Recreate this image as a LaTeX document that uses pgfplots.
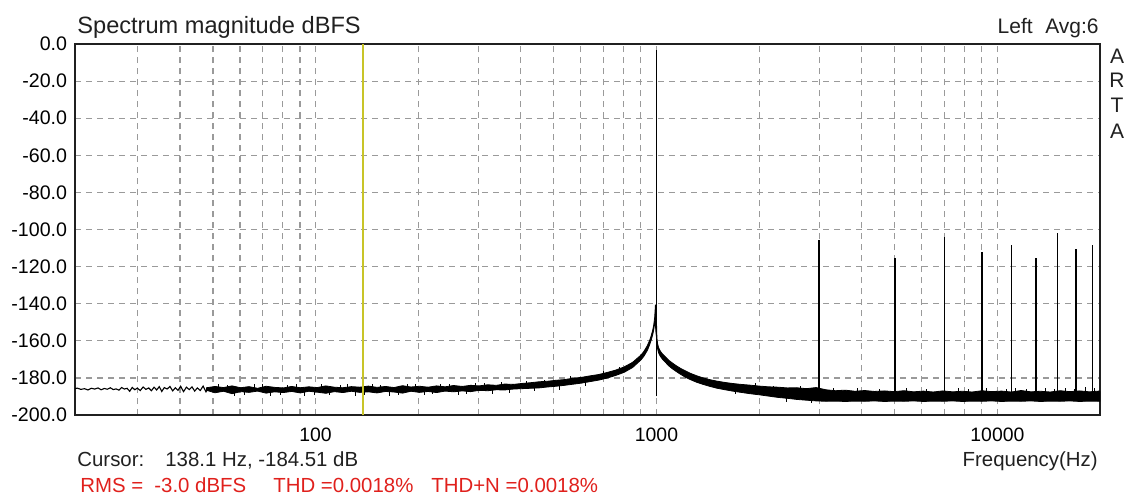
\documentclass[border=0pt]{standalone}
\usepackage{fontspec}
\setmainfont{Liberation Sans}
\usepackage{pgfplots}
\pgfplotsset{compat=1.18}
\definecolor{gridgray}{HTML}{9A9A9A}
\definecolor{cursoryellow}{HTML}{C8C428}
\definecolor{artared}{HTML}{E0201C}
\definecolor{framedark}{HTML}{202020}

\begin{document}
\begin{tikzpicture}
\useasboundingbox (-37.5pt,-39.5pt) rectangle (526pt,207.5pt);
\begin{axis}[
  at={(0pt,0pt)}, anchor=south west,
  scale only axis, width=512.5pt, height=185.5pt,
  xmode=log, xmin=19.7, xmax=20000,
  ymin=-200, ymax=0,
  unbounded coords=jump,
  axis line style={draw=framedark, line width=1pt},
  grid=both,
  major grid style={gridgray, dash pattern=on 3pt off 2.5pt, line width=0.6pt},
  minor grid style={gridgray, dash pattern=on 3pt off 2.5pt, line width=0.6pt},
  xtick={100,1000,10000},
  xticklabels={100,1000,10000},
  minor xtick={30,40,50,60,70,80,90,200,300,400,500,600,700,800,900,
    2000,3000,4000,5000,6000,7000,8000,9000},
  ytick={-200,-180,-160,-140,-120,-100,-80,-60,-40,-20,0},
  yticklabel={\pgfmathprintnumber[fixed,fixed zerofill,precision=1,assume math mode=true]{\tick}},
  major tick length=0pt, minor tick length=0pt,
  tick style={draw=none},
  yticklabel style={font=\fontsize{9.8}{10}\selectfont, inner sep=0pt, anchor=east, xshift=-3.8pt},
  xticklabel style={font=\fontsize{9.7}{10}\selectfont, inner sep=0pt, anchor=base, yshift=-13pt},
]
% noise floor, thin part below 48 Hz
\addplot[black, line width=0.55pt] coordinates {
  (19.7,-185.8) (20,-185.5) (20.5,-186.2) (21,-185.8) (21.5,-186.5) (22,-185.6)
  (22.5,-186.0) (23,-185.4) (23.5,-186.4) (24,-185.7) (24.5,-186.1) (25,-185.3)
  (25.5,-186.3) (26,-185.9) (26.5,-186.6) (27,-185.2) (27.5,-186.0) (28,-185.6)
  (28.5,-187.2) (29,-185.1) (29.5,-186.4) (30,-185.5) (30.6,-186.8) (31.2,-184.9)
  (31.8,-186.2) (32.4,-185.4) (33,-186.9) (33.6,-185.0) (34.2,-186.5) (34.8,-184.7)
  (35.4,-187.3) (36,-185.2) (36.7,-186.0) (37.4,-184.6) (38.1,-187.0) (38.8,-185.3)
  (39.5,-186.7) (40.2,-184.5) (41,-187.4) (41.8,-185.0) (42.6,-186.3) (43.4,-184.8)
  (44.2,-187.1) (45,-185.4) (45.9,-186.8) (46.8,-184.4) (47.7,-187.5) (48.6,-185.1)
};
% noise band: upper edge left to right, lower edge right to left
\addplot[black, fill=black, line width=0.4pt] coordinates {
  (47.9,-185.3) (50.7,-184.6) (53.7,-185.2) (56.9,-184.3) (60.3,-185.3) (63.8,-184.7)
  (67.6,-185.6) (71.6,-184.5) (75.9,-185.1) (80.4,-185.4) (85.1,-184.6) (90.2,-185.3)
  (95.5,-184.8) (101.2,-185.2) (107.2,-184.3) (113.5,-185.0) (120.2,-185.3) (127.4,-184.7)
  (134.9,-185.0) (142.9,-184.4) (151.4,-185.1) (160.3,-184.6) (169.8,-185.2) (179.9,-184.2)
  (190.5,-184.9) (201.8,-184.5) (213.8,-185.0) (226.5,-184.3) (239.9,-184.8) (254.1,-184.1)
  (269.2,-184.6) (285.1,-184.0) (302.0,-184.3) (319.9,-183.7) (338.8,-184.0) (358.9,-183.3)
  (380.2,-183.5) (402.7,-183.0) (426.6,-182.6) (451.9,-182.1) (478.6,-181.8) (507.0,-181.3)
  (537.0,-180.9) (568.9,-180.2) (602.6,-179.7) (638.3,-178.9) (676.1,-178.2) (716.1,-177.1)
  (758.6,-175.8) (803.5,-174.1) (851.1,-171.6) (901.6,-167.6) (920,-165.5) (940,-162.6)
  (955,-159.7) (965,-157.2) (975,-154.2) (982,-151.2) (988,-147.2) (993,-140.5)
  (997,-144.0) (1000,-150.0) (1003,-158.5) (1008,-161.8) (1015,-163.8) (1025,-165.4)
  (1040,-167.0) (1060,-168.5) (1085,-170.4) (1110,-171.8) (1140,-173.3) (1175,-174.8)
  (1215,-176.2) (1260,-177.6) (1310,-178.8) (1365,-179.9) (1430,-180.9) (1500,-181.7)
  (1580,-182.4) (1670,-183.0) (1770,-183.5) (1880,-183.9) (2000,-184.4) (2130,-184.8)
  (2270,-185.0) (2420,-185.4) (2580,-185.3) (2750,-185.8) (2940,-185.2) (3140,-186.4)
  (3350,-186.9) (3580,-186.6) (3820,-187.2) (4080,-186.8) (4360,-187.3) (4660,-187.0)
  (4980,-187.4) (5320,-186.9) (5680,-187.5) (6070,-187.1) (6480,-187.6) (6920,-187.0)
  (7390,-187.5) (7900,-187.2) (8430,-187.6) (9010,-186.9) (9620,-187.4) (10280,-187.1)
  (10980,-187.6) (11730,-186.8) (12530,-187.5) (13380,-187.2) (14290,-187.6) (15270,-186.9)
  (16310,-187.4) (17420,-187.0) (18610,-187.5) (19880,-187.1) (20000,-187.3)
  (20000,-192.6) (19880,-192.6) (18610,-192.5) (17420,-192.7) (16310,-192.4) (15270,-192.6)
  (14290,-192.5) (13380,-192.7) (12530,-192.4) (11730,-192.6) (10980,-192.5) (10280,-192.7)
  (9620,-192.4) (9010,-192.6) (8430,-192.5) (7900,-192.7) (7390,-192.4) (6920,-192.6)
  (6480,-192.5) (6070,-192.7) (5680,-192.4) (5320,-192.6) (4980,-192.5) (4660,-192.7)
  (4360,-192.4) (4080,-192.6) (3820,-192.5) (3580,-192.7) (3350,-192.5) (3140,-192.6)
  (2940,-192.4) (2750,-192.0) (2580,-191.6) (2420,-191.0) (2270,-190.5) (2130,-189.8)
  (2000,-189.1) (1880,-188.5) (1770,-187.8) (1670,-187.1) (1580,-186.3) (1500,-185.5)
  (1430,-184.5) (1365,-183.4) (1310,-182.3) (1260,-181.0) (1215,-179.6) (1175,-178.0)
  (1140,-176.4) (1110,-174.9) (1085,-173.4) (1060,-171.4) (1040,-169.8) (1025,-168.2)
  (1015,-166.6) (1008,-164.5) (1003,-161.5) (1000,-158.0) (997,-156.0) (993,-152.0)
  (988,-150.3) (982,-153.8) (975,-156.6) (965,-159.6) (955,-162.1) (940,-165.2)
  (920,-168.1) (901.6,-170.2) (851.1,-174.4) (803.5,-177.0) (758.6,-178.7) (716.1,-180.1)
  (676.1,-181.2) (638.3,-182.0) (602.6,-182.8) (568.9,-183.4) (537.0,-184.0) (507.0,-184.5)
  (478.6,-184.9) (451.9,-185.4) (426.6,-185.6) (402.7,-185.8) (380.2,-186.0) (358.9,-186.5)
  (338.8,-186.4) (319.9,-186.9) (302.0,-186.7) (285.1,-187.4) (269.2,-187.0) (254.1,-187.5)
  (239.9,-187.1) (226.5,-187.9) (213.8,-187.3) (201.8,-187.8) (190.5,-187.2) (179.9,-188.2)
  (169.8,-187.6) (160.3,-187.3) (151.4,-188.1) (142.9,-187.5) (134.9,-187.8) (127.4,-187.2)
  (120.2,-187.9) (113.5,-187.4) (107.2,-188.3) (101.2,-187.7) (95.5,-187.2) (90.2,-188.1)
  (85.1,-187.3) (80.4,-187.9) (75.9,-187.5) (71.6,-188.2) (67.6,-187.1) (63.8,-187.8)
  (60.3,-187.4) (56.9,-188.5) (53.7,-187.2) (50.7,-188.0) (47.9,-186.7)
} -- cycle;
% short spurs on the noise band
\addplot[black, line width=0.5pt] coordinates {
  (52,-186) (52,-183.2) (52,nan) (55,-186) (55,-183.6) (55,nan)
  (58,-186) (58,-189.5) (58,nan) (62,-186) (62,-189.0) (62,nan)
  (66,-186) (66,-183.5) (66,nan) (70,-186) (70,-183.3) (70,nan)
  (74,-186) (74,-189.8) (74,nan) (79,-186) (79,-189.3) (79,nan)
  (83,-186) (83,-183.7) (83,nan) (88,-186) (88,-183.4) (88,nan)
  (93,-186) (93,-189.6) (93,nan) (99,-186) (99,-189.4) (99,nan)
  (104,-186) (104,-183.4) (104,nan) (110,-186) (110,-189.2) (110,nan)
  (118,-186) (118,-183.6) (118,nan) (124,-186) (124,-183.2) (124,nan)
  (131,-186) (131,-189.6) (131,nan) (139,-186) (139,-189.1) (139,nan)
  (147,-186) (147,-183.3) (147,nan) (155,-186) (155,-183.6) (155,nan)
  (165,-186) (165,-189.7) (165,nan) (175,-186) (175,-189.4) (175,nan)
  (186,-186) (186,-183.5) (186,nan) (196,-186) (196,-183.3) (196,nan)
  (208,-186) (208,-189.3) (208,nan) (220,-186) (220,-188.9) (220,nan)
  (233,-186) (233,-183.2) (233,nan) (247,-186) (247,-183.4) (247,nan)
  (262,-186) (262,-189.0) (262,nan) (278,-185) (278,-188.8) (278,nan)
  (295,-185) (295,-182.7) (295,nan) (312,-185) (312,-182.6) (312,nan)
  (330,-185) (330,-188.6) (330,nan) (350,-185) (350,-182.2) (350,nan)
  (370,-185) (370,-187.9) (370,nan) (415,-184) (415,-181.6) (415,nan)
  (440,-184) (440,-187.2) (440,nan) (470,-184) (470,-180.9) (470,nan)
  (520,-183) (520,-186.3) (520,nan) (560,-182) (560,-179.2) (560,nan)
  (620,-181) (620,-184.3) (620,nan) (700,-179) (700,-176.2) (700,nan)
  (780,-177) (780,-174.0) (780,nan) (1700,-185) (1700,-188.7) (1700,nan)
  (1950,-186) (1950,-183.0) (1950,nan) (2200,-188) (2200,-184.5) (2200,nan)
  (2400,-188) (2400,-193.2) (2400,nan) (2650,-189) (2650,-184.2) (2650,nan)
  (2850,-189) (2850,-193.4) (2850,nan)
  (3300,-189) (3300,-185.3) (3300,nan) (3900,-189) (3900,-185.6) (3900,nan)
  (4500,-189) (4500,-185.8) (4500,nan) (5400,-189) (5400,-185.5) (5400,nan)
  (6200,-189) (6200,-185.9) (6200,nan) (7700,-189) (7700,-185.7) (7700,nan)
  (8200,-189) (8200,-186.0) (8200,nan) (9300,-189) (9300,-185.4) (9300,nan)
  (10600,-189) (10600,-185.8) (10600,nan) (11300,-189) (11300,-185.6) (11300,nan)
  (12200,-189) (12200,-186.1) (12200,nan) (13800,-189) (13800,-185.5) (13800,nan)
  (14700,-189) (14700,-185.9) (14700,nan) (15800,-189) (15800,-185.3) (15800,nan)
  (16800,-189) (16800,-185.8) (16800,nan) (18100,-189) (18100,-184.9) (18100,nan)
  (19300,-189) (19300,-185.6)
};
% fundamental and harmonics
\addplot[black, line width=0.9pt] coordinates {
  (1000,-190) (1000,-3) (1000,nan)
  (3000,-190) (3000,-105.7) (3000,nan)
  (5000,-190) (5000,-115.4) (5000,nan)
  (7000,-190) (7000,-104.0) (7000,nan)
  (9000,-190) (9000,-112.0) (9000,nan)
  (11000,-190) (11000,-108.4) (11000,nan)
  (13000,-190) (13000,-115.4) (13000,nan)
  (15000,-190) (15000,-101.9) (15000,nan)
  (17000,-190) (17000,-110.5) (17000,nan)
  (19000,-190) (19000,-108.4)
};
% cursor
\addplot[cursoryellow, line width=0.9pt] coordinates {(138.1,-200) (138.1,0)};
\end{axis}
\begin{scope}[every node/.style={inner sep=0pt, text=framedark}]
\node[anchor=base west, font=\fontsize{11.8}{12}\selectfont] at (1pt,191pt) {Spectrum magnitude dBFS};
\node[anchor=base east, font=\fontsize{10.5}{12}\selectfont] at (512pt,191pt) {Left\hspace{0.6em}Avg:6};
\node[font=\fontsize{10.5}{12}\selectfont] at (521pt,179.2pt) {A};
\node[font=\fontsize{10.5}{12}\selectfont] at (521pt,167.5pt) {R};
\node[font=\fontsize{10.5}{12}\selectfont] at (521pt,155pt) {T};
\node[font=\fontsize{10.5}{12}\selectfont] at (521pt,142pt) {A};
\node[anchor=base west, font=\fontsize{10.2}{12}\selectfont] at (1pt,-25.5pt) {Cursor:};
\node[anchor=base west, font=\fontsize{10.2}{12}\selectfont] at (45pt,-25.5pt) {138.1 Hz, -184.51 dB};
\node[anchor=base east, font=\fontsize{10.2}{12}\selectfont] at (511.5pt,-25.5pt) {Frequency(Hz)};
\end{scope}
\begin{scope}[every node/.style={inner sep=0pt, text=artared, anchor=base west, font=\fontsize{10.2}{12}\selectfont}]
\node at (2.5pt,-38.5pt) {RMS =};
\node at (39.5pt,-38.5pt) {-3.0 dBFS};
\node at (99pt,-38.5pt) {THD =0.0018\%};
\node at (178pt,-38.5pt) {THD+N =0.0018\%};
\end{scope}
\end{tikzpicture}
\end{document}
